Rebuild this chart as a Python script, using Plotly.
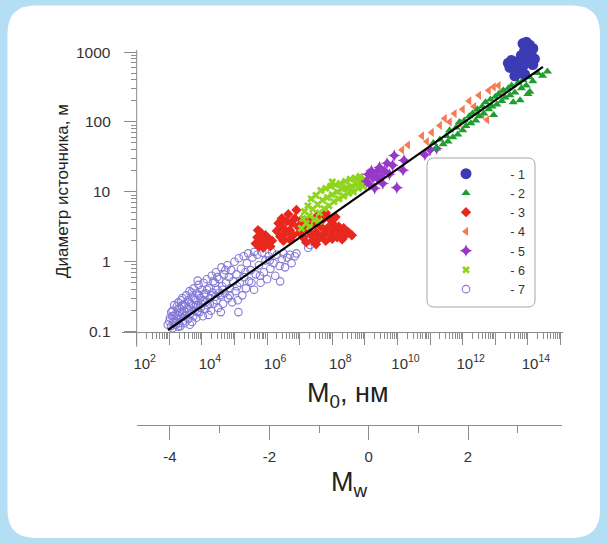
import math
import plotly.graph_objects as go

W, H = 607, 543

# ---------------- data (log10 of M0 [N*m] and log10 of D [m]) ----------------
lgM0_1 = [13.85, 13.95, 14.05, 14.15, 13.90, 14.10, 14.20, 14.00, 13.80, 13.40, 13.50, 13.60, 13.70,
          13.45, 13.65, 13.75, 13.90, 13.60, 14.15, 13.85]
lgD_1 = [3.12, 3.14, 3.10, 3.05, 3.02, 2.96, 2.90, 2.92, 2.95, 2.84, 2.88, 2.82, 2.86,
         2.78, 2.74, 2.70, 2.68, 2.66, 2.82, 2.80]

lgM0_2 = [11.1, 11.2, 11.3, 11.4, 11.5, 11.55, 11.6, 11.7, 11.8, 11.85, 11.9, 12.0, 12.05, 12.1, 12.2,
          12.25, 12.3, 12.4, 12.45, 12.5, 12.6, 12.65, 12.7, 12.8, 12.85, 12.9, 13.0, 13.05, 13.1, 13.2,
          13.25, 13.3, 13.4, 13.45, 13.5, 13.6, 13.7, 13.8, 13.85, 13.95, 14.05, 14.15, 14.3, 14.45,
          14.6, 13.55, 12.95, 14.0, 13.76, 14.06]
lgD_2 = [1.70, 1.62, 1.75, 1.68, 1.80, 1.72, 1.88, 1.78, 1.92, 1.82, 2.00, 1.88, 2.02, 1.94, 2.08,
         1.98, 2.12, 2.02, 2.18, 2.08, 2.22, 2.12, 2.28, 2.18, 2.32, 2.22, 2.36, 2.25, 2.40, 2.30,
         2.45, 2.35, 2.48, 2.38, 2.52, 2.42, 2.56, 2.48, 2.60, 2.52, 2.64, 2.58, 2.70, 2.66,
         2.72, 2.28, 2.10, 2.40, 2.31, 2.43]

lgM0_3 = [5.65, 5.70, 5.75, 5.80, 5.85, 5.90, 5.95, 6.00, 6.05, 6.10, 5.72, 6.15, 5.88,
          6.30, 6.35, 6.40, 6.45, 6.50, 6.55, 6.60, 6.65, 6.70, 6.75, 6.80, 6.85, 6.90, 6.95, 7.00,
          7.05, 6.50, 6.70,
          7.10, 7.15, 7.20, 7.25, 7.30, 7.35, 7.40, 7.45, 7.50, 7.55, 7.60, 7.65, 7.70, 7.75, 7.80,
          7.85, 7.90, 7.95, 8.00, 8.05, 8.10, 8.15, 8.20, 8.25, 8.30, 8.35, 8.40, 8.50, 8.60, 7.50,
          7.80, 8.00]
lgD_3 = [0.26, 0.35, 0.22, 0.42, 0.30, 0.24, 0.38, 0.28, 0.33, 0.22, 0.45, 0.30, 0.20,
         0.44, 0.55, 0.36, 0.62, 0.48, 0.40, 0.58, 0.68, 0.45, 0.55, 0.38, 0.62, 0.74, 0.50, 0.42,
         0.60, 0.30, 0.32,
         0.35, 0.52, 0.28, 0.45, 0.60, 0.38, 0.30, 0.55, 0.42, 0.66, 0.34, 0.50, 0.60, 0.40, 0.70,
         0.48, 0.62, 0.38, 0.55, 0.45, 0.64, 0.35, 0.50, 0.42, 0.32, 0.48, 0.38, 0.42, 0.38, 0.25,
         0.30, 0.33]

lgM0_4 = [10.14, 10.32, 10.75, 10.90, 11.05, 11.30, 11.45, 11.60, 11.75, 11.90, 12.00, 12.20, 12.35,
          12.45, 12.50, 12.60, 12.75, 12.80, 12.95, 13.10, 13.20]
lgD_4 = [1.60, 1.67, 1.80, 1.72, 1.85, 1.95, 2.05, 2.00, 2.12, 1.98, 2.18, 2.30, 2.22,
         2.15, 2.38, 2.10, 2.03, 2.45, 2.50, 2.52, 2.44]

lgM0_5 = [9.05, 9.10, 9.15, 9.20, 9.25, 9.30, 9.35, 9.40, 9.45, 9.50, 9.55, 9.60, 9.68, 9.75,
          9.85, 9.98, 10.17, 10.20, 10.84, 11.20, 11.00, 9.90]
lgD_5 = [1.15, 1.25, 1.10, 1.30, 1.20, 1.05, 1.28, 1.18, 1.35, 1.22, 1.12, 1.30, 1.41, 1.25,
         1.38, 1.06, 1.31, 1.45, 1.53, 1.62, 1.60, 1.52]

lgM0_6 = [7.05, 7.10, 7.15, 7.20, 7.25, 7.30, 7.35, 7.40, 7.45, 7.50, 7.55, 7.60, 7.65, 7.70,
          7.75, 7.80, 7.85, 7.90, 7.95, 8.00, 8.05, 8.10, 8.15, 8.20, 8.25, 8.30, 8.35, 8.40,
          8.45, 8.50, 8.55, 8.60, 8.65, 8.70, 8.75, 8.80, 8.85, 8.90, 8.95, 9.00, 7.30, 7.60, 8.00]
lgD_6 = [0.48, 0.62, 0.72, 0.55, 0.80, 0.66, 0.90, 0.75, 0.60, 0.95, 0.82, 0.70, 1.02, 0.88,
         0.76, 1.05, 0.92, 0.80, 1.08, 0.96, 0.86, 1.10, 1.00, 0.90, 1.12, 1.04, 0.94, 1.15,
         1.06, 0.98, 1.18, 1.08, 1.00, 1.20, 1.12, 1.05, 1.22, 1.15, 1.08, 1.18, 0.50, 0.58, 1.14]

lgM0_7 = [2.95, 3.00, 3.05, 3.08, 3.10, 3.12, 3.15, 3.18, 3.20, 3.22, 3.25, 3.28, 3.30, 3.33, 3.35,
          3.38, 3.40, 3.42, 3.45, 3.48, 3.50, 3.10, 3.27, 3.36, 3.47,
          3.52, 3.55, 3.58, 3.60, 3.62, 3.65, 3.68, 3.70, 3.72, 3.75, 3.78, 3.80, 3.83, 3.85, 3.88,
          3.90, 3.93, 3.95, 3.98, 4.00, 4.03, 4.05, 4.08, 4.10, 4.12, 4.15, 4.18, 4.20, 3.63, 3.87,
          4.22, 4.25, 4.28, 4.30, 4.33, 4.36, 4.40, 4.43, 4.45, 4.48, 4.50, 4.53, 4.56, 4.60, 4.62,
          4.65, 4.68, 4.70, 4.74, 4.78, 4.80, 4.83, 4.86, 4.90, 4.93, 4.96, 5.00, 4.58,
          5.03, 5.06, 5.10, 5.13, 5.16, 5.20, 5.24, 5.28, 5.30, 5.35, 5.38, 5.42, 5.45, 5.50, 5.55,
          5.60, 5.65, 5.70, 5.75, 5.80, 5.85, 5.90, 5.95, 5.12, 5.60,
          6.00, 6.05, 6.10, 6.15, 6.20, 6.25, 6.30, 6.38, 6.45, 6.50, 6.55, 6.62, 6.70, 6.75, 6.85,
          6.90, 7.26, 6.40, 7.32,
          3.02, 3.06, 3.13, 3.17, 3.23, 3.26, 3.31, 3.34, 3.39, 3.44, 3.46, 3.53, 3.57, 3.61, 3.66,
          3.69, 3.74, 3.77, 3.82, 3.86, 3.91, 3.96, 4.02, 4.06, 4.11, 4.16, 4.24, 4.29, 4.35, 4.41,
          4.47, 4.52, 4.64, 4.72, 4.85, 5.08, 5.33, 5.52, 5.78, 6.08]
lgD_7 = [-0.90, -0.85, -0.92, -0.78, -0.70, -0.86, -0.62, -0.75, -0.90, -0.82, -0.68, -0.58, -0.88,
         -0.72, -0.80, -0.63, -0.52, -0.85, -0.70, -0.60, -0.77, -0.95, -0.93, -0.55, -0.88,
         -0.48, -0.66, -0.82, -0.57, -0.42, -0.74, -0.50, -0.86, -0.62, -0.38, -0.70, -0.55, -0.80,
         -0.45, -0.64, -0.33, -0.72, -0.52, -0.60, -0.40, -0.78, -0.30, -0.56, -0.68, -0.45, -0.25,
         -0.62, -0.76, -0.90, -0.27,
         -0.38, -0.52, -0.70, -0.20, -0.44, -0.60, -0.30, -0.15, -0.55, -0.40, -0.66, -0.25, -0.48,
         -0.08, -0.35, -0.60, -0.18, -0.45, -0.30, -0.05, -0.52, -0.22, -0.38, -0.12, -0.58, -0.28,
         0.00, -0.72,
         -0.42, -0.18, -0.55, 0.05, -0.30, -0.10, -0.48, 0.08, -0.22, -0.38, -0.02, 0.12, -0.28,
         -0.12, 0.06, -0.40, -0.18, 0.10, -0.05, -0.30, 0.13, -0.15, 0.02, -0.72, 0.14,
         -0.25, 0.08, -0.10, 0.14, -0.02, -0.20, 0.10, -0.06, 0.04, 0.12, -0.08, 0.06, 0.10, -0.02,
         0.08, 0.12, 0.20, -0.28, 0.24,
         -0.80, -0.72, -0.78, -0.88, -0.64, -0.76, -0.66, -0.92, -0.74, -0.62, -0.78, -0.72, -0.55,
         -0.68, -0.60, -0.44, -0.78, -0.52, -0.62, -0.72, -0.48, -0.66, -0.55, -0.46, -0.58, -0.40,
         -0.60, -0.48, -0.28, -0.50, -0.22, -0.45, -0.40, -0.12, -0.48, -0.35, -0.15, -0.30, -0.20,
         0.02]

# regression line D ~ M0^(1/3): end points
fit_lgM0 = [2.96, 14.46]
fit_lgD = [-0.976, 2.787]

series_names = ["- 1", "- 2", "- 3", "- 4", "- 5", "- 6", "- 7"]
x_tick_exp = list(range(2, 16))
x_label_exp = [2, 4, 6, 8, 10, 12, 14]
y_tick_vals = [0.1, 1, 10, 100, 1000]
y_tick_text = ["0.1", "1", "10", "100", "1000"]
mw_major = [-4, -2, 0, 2]
mw_minor = [-3, -1, 1, 3]

# ---------------- style ----------------
FONT = "Arial, Liberation Sans, Helvetica, sans-serif"
TXT = "#333333"
AX = "#8c8c8c"
colors = ["#3b3bb3", "#1f9e2f", "#e8281e", "#f57b55", "#9738c9", "#8fd41e", "#8479d6"]
NB = "\u00a0"


def pw(v):
    return [10 ** a for a in v]


def fx(p):
    return p / W


def fy(p):
    return 1 - p / H


fig = go.Figure()

specs = [
    (lgM0_7, lgD_7, 6, dict(symbol="circle-open", size=7.5, line=dict(width=1.1, color=colors[6]), color=colors[6])),
    (lgM0_3, lgD_3, 2, dict(symbol="diamond", size=8, color=colors[2], line=dict(width=0))),
    (lgM0_6, lgD_6, 5, dict(symbol="x", size=7, color=colors[5], line=dict(width=0))),
    (lgM0_5, lgD_5, 4, dict(symbol="star-diamond", size=9, color=colors[4], line=dict(width=0))),
    (lgM0_4, lgD_4, 3, dict(symbol="triangle-left", size=8, color=colors[3], line=dict(width=0))),
    (lgM0_2, lgD_2, 1, dict(symbol="triangle-up", size=8, color=colors[1], line=dict(width=0))),
    (lgM0_1, lgD_1, 0, dict(symbol="circle", size=11, color=colors[0], line=dict(width=0))),
]
for xs, ys, idx, mk in specs:
    fig.add_trace(go.Scatter(
        x=pw(xs), y=pw(ys), mode="markers", marker=mk, name=NB * 7 + series_names[idx],
        legendrank=idx + 1, cliponaxis=False, hoverinfo="skip"))

fig.add_trace(go.Scatter(x=pw(fit_lgM0), y=pw(fit_lgD), mode="lines",
                         line=dict(color="black", width=2.2), showlegend=False, hoverinfo="skip"))

# dummy trace to carry the Mw axis
fig.add_trace(go.Scatter(x=[], y=[], xaxis="x2", yaxis="y2", showlegend=False))

x_minor = [k * 10 ** n for n in range(2, 15) for k in range(2, 10)]
y_minor = [k * 10 ** n for n in range(-1, 3) for k in range(2, 10)]

x0p, x1p = 121.7, 563.0
ytop, ybot = 28.0, 346.7
yaxis_top = 50.0
YAXX = 136.7
XAXY = 331.7
lg_per_px_x = 1 / 32.6
lg_per_px_y = 1 / 69.9
xr = [2 - (YAXX - x0p) * lg_per_px_x, 2 + (x1p - YAXX) * lg_per_px_x]
yr = [-1 - (ybot - XAXY) * lg_per_px_y, 3 + (52.0 - ytop) * lg_per_px_y]

annotations = [
    dict(text="Диаметр источника, м", x=fx(62), y=fy(191), xref="paper", yref="paper",
         xanchor="center", yanchor="middle",
         textangle=-90, showarrow=False, font=dict(size=17, color="#222222")),
    dict(text="M<sub>0</sub>, нм", x=fx(348), y=fy(395), xref="paper", yref="paper",
         xanchor="center", yanchor="middle",
         showarrow=False, font=dict(size=27, color="#222222")),
    dict(text="M<sub>w</sub>", x=fx(349), y=fy(484), xref="paper", yref="paper",
         xanchor="center", yanchor="middle",
         showarrow=False, font=dict(size=27, color="#222222")),
]
# y tick labels of the diameter axis, placed at their tick values
for v, t in zip(y_tick_vals, y_tick_text):
    annotations.append(dict(text=t, x=fx(113), xref="paper", y=math.log10(v), yref="y",
                            xanchor="right", yanchor="middle", showarrow=False,
                            font=dict(size=15.5, color=TXT)))

fig.update_layout(
    width=W, height=H,
    margin=dict(l=0, r=0, t=0, b=0),
    paper_bgcolor="#b4def3",
    plot_bgcolor="rgba(0,0,0,0)",
    font=dict(family=FONT, color=TXT, size=15),
    xaxis=dict(
        type="log", range=xr, domain=[fx(x0p), fx(x1p)],
        anchor="free", position=fy(XAXY),
        showgrid=False, zeroline=False,
        showline=True, linecolor=AX, linewidth=1,
        tickmode="array", tickvals=[10 ** e for e in x_tick_exp],
        ticktext=[("10<sup>%d</sup>" % e) if e in x_label_exp else "" for e in x_tick_exp],
        ticks="outside", ticklen=12, tickcolor=AX, tickwidth=1,
        ticklabelstandoff=6, ticklabelshift=8,
        tickfont=dict(size=15, color=TXT),
        minor=dict(tickmode="array", tickvals=x_minor, ticks="outside", ticklen=6,
                   tickcolor=AX, tickwidth=1, showgrid=False),
    ),
    yaxis=dict(
        type="log", range=yr, domain=[fy(ybot), fy(ytop)],
        anchor="free", position=fx(YAXX),
        showgrid=False, zeroline=False,
        showline=False, showticklabels=False,
        tickmode="array", tickvals=y_tick_vals,
        ticks="outside", ticklen=13, tickcolor=AX, tickwidth=1,
        minor=dict(tickmode="array", tickvals=y_minor, ticks="outside", ticklen=6,
                   tickcolor=AX, tickwidth=1, showgrid=False),
    ),
    xaxis2=dict(
        range=[-4.67, 3.886], domain=[fx(136.7), fx(561.7)],
        anchor="free", position=fy(425),
        showgrid=False, zeroline=False,
        showline=True, linecolor=AX, linewidth=1,
        tickmode="array", tickvals=mw_major, ticktext=[str(v) for v in mw_major],
        ticks="outside", ticklen=14, tickcolor=AX, tickwidth=1,
        ticklabelstandoff=4,
        tickfont=dict(size=15, color=TXT),
        minor=dict(tickmode="array", tickvals=mw_minor, ticks="outside", ticklen=7,
                   tickcolor=AX, tickwidth=1, showgrid=False),
    ),
    yaxis2=dict(domain=[0.0, 0.02], anchor="x2", visible=False, range=[0, 1]),
    showlegend=True,
    legend=dict(
        x=fx(446), y=fy(159), xanchor="left", yanchor="top",
        bgcolor="rgba(0,0,0,0)", borderwidth=0,
        font=dict(size=12.5, color=TXT, family=FONT),
        traceorder="normal", itemwidth=30,
    ),
    annotations=annotations,
)


def rrect(x0, y0, x1, y1, r):
    X0, X1 = fx(x0), fx(x1)
    Y0, Y1 = fy(y1), fy(y0)
    rx, ry = r / W, r / H
    return (f"M {X0+rx},{Y1} L {X1-rx},{Y1} Q {X1},{Y1} {X1},{Y1-ry} L {X1},{Y0+ry} "
            f"Q {X1},{Y0} {X1-rx},{Y0} L {X0+rx},{Y0} Q {X0},{Y0} {X0},{Y0+ry} "
            f"L {X0},{Y1-ry} Q {X0},{Y1} {X0+rx},{Y1} Z")


# white rounded card
fig.add_shape(type="path", path=rrect(7.5, 5.5, 600, 538, 28), xref="paper", yref="paper",
              fillcolor="white", line=dict(width=0), layer="below")
# rounded legend frame
fig.add_shape(type="path", path=rrect(427, 158, 535, 307, 7), xref="paper", yref="paper",
              fillcolor="rgba(0,0,0,0)", line=dict(width=1, color="#a8a8a8"), layer="below")
# y axis line (from below the 0.1 crossing up to 1000)
fig.add_shape(type="line", xref="paper", yref="paper",
              x0=fx(YAXX), x1=fx(YAXX), y0=fy(ybot), y1=fy(yaxis_top),
              line=dict(color=AX, width=1), layer="below")

fig.write_html("out.html", config={"displayModeBar": False},
               post_script="document.body.style.margin='0';document.body.style.overflow='hidden';")
